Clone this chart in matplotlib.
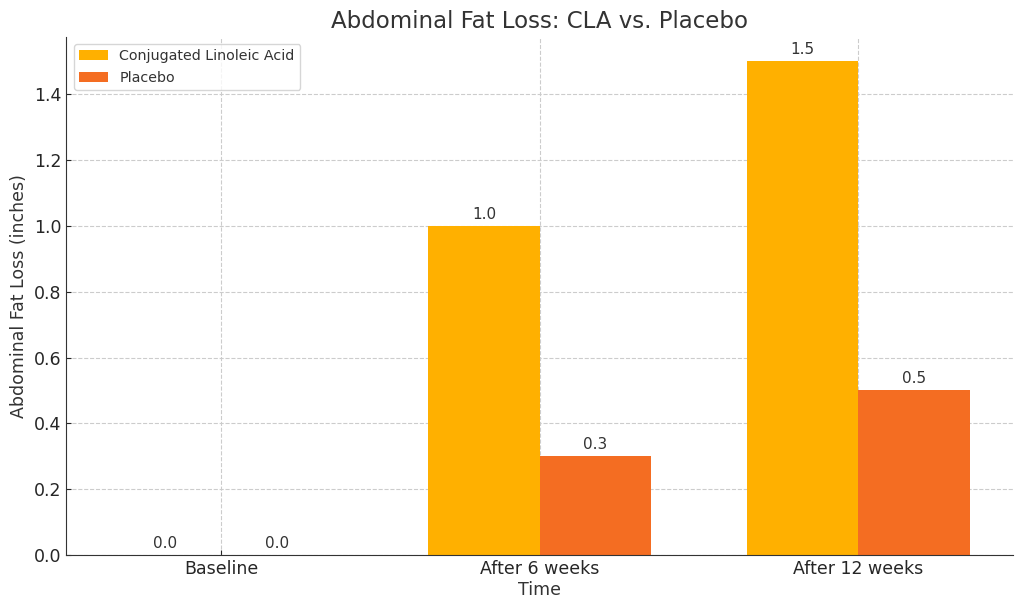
import numpy as np
import matplotlib
matplotlib.use("Agg")
import matplotlib.pyplot as plt

time_points = ["Baseline", "After 6 weeks", "After 12 weeks"]
cla_loss = [0.0, 1.0, 1.5]
placebo_loss = [0.0, 0.3, 0.5]

plt.rcParams['text.color'] = '#333333'
plt.rcParams['axes.labelcolor'] = '#333333'
plt.rcParams['xtick.color'] = '#262626'
plt.rcParams['ytick.color'] = '#262626'

fig, ax = plt.subplots(figsize=(10.23, 6.1), dpi=100)

x = np.arange(len(time_points))
width = 0.35

bars1 = ax.bar(x - width / 2, cla_loss, width, label='Conjugated Linoleic Acid', color='#FFB000')
bars2 = ax.bar(x + width / 2, placebo_loss, width, label='Placebo', color='#F46D22')

# value labels on top
for bars in (bars1, bars2):
    for b in bars:
        h = b.get_height()
        ax.annotate(f'{h:.1f}', xy=(b.get_x() + b.get_width() / 2, h),
                    xytext=(0, 3), textcoords='offset points',
                    ha='center', va='bottom', fontsize=11, color='#333333')

ax.set_title('Abdominal Fat Loss: CLA vs. Placebo', fontsize=16.5, color='#333333')
ax.set_xlabel('Time', fontsize=12.5, labelpad=2)
ax.set_ylabel('Abdominal Fat Loss (inches)', fontsize=12.5)
ax.set_xticks(x)
ax.set_xticklabels(time_points)
ax.tick_params(labelsize=12.5, direction='in', length=3.5)
ax.set_axisbelow(True)
ax.grid(True, linestyle='--', color='#cccccc', linewidth=0.8)
ax.spines['top'].set_visible(False)
ax.spines['right'].set_visible(False)
for s in ('left', 'bottom'):
    ax.spines[s].set_color('#333333')
ax.legend(loc='upper left', fontsize=10.3)

fig.subplots_adjust(left=0.065, right=0.99, top=0.94, bottom=0.09)
fig.savefig('out.png', dpi=100)
